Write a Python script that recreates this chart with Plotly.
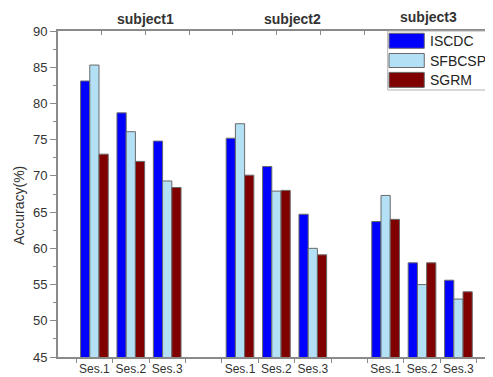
import plotly.graph_objects as go

subjects = ["subject1", "subject2", "subject3"]
sessions = ["Ses.1", "Ses.2", "Ses.3"]
methods = ["ISCDC", "SFBCSP", "SGRM"]

iscdc = [83.1, 78.7, 74.8, 75.2, 71.3, 64.7, 63.7, 58.0, 55.6]
sfbcsp = [85.3, 76.1, 69.3, 77.2, 67.9, 60.0, 67.3, 55.0, 53.0]
sgrm = [73.0, 72.0, 68.4, 70.1, 68.0, 59.1, 64.0, 58.0, 54.0]

series = [iscdc, sfbcsp, sgrm]
colors = ["#0000FF", "#B3E0F5", "#800000"]

# positions: sessions of each subject side by side, one empty slot between subjects
xpos = [si * 4 + ki for si in range(len(subjects)) for ki in range(len(sessions))]
xlabels = [s for _ in subjects for s in sessions]

FONT = "Liberation Sans, Arial, sans-serif"

fig = go.Figure()
for name, vals, col in zip(methods, series, colors):
    fig.add_trace(go.Bar(
        x=xpos, y=vals, name=name,
        marker=dict(color=col, line=dict(color="#6a6a6a", width=1)),
        showlegend=False,
    ))

# empty trace to activate the secondary (top/right) frame axes
fig.add_trace(go.Scatter(x=[None], y=[None], xaxis="x2", yaxis="y2",
                         showlegend=False, hoverinfo="skip"))

axis_col = "#8a8a8a"
# the page body has an 8px default margin, so the figure is 8px smaller
fig.update_layout(
    width=485, height=369,
    margin=dict(l=50, r=0, t=23, b=20),
    paper_bgcolor="white", plot_bgcolor="white",
    barmode="group", bargap=0.24, bargroupgap=0,
    font=dict(family=FONT, color="#333333", size=12),
    xaxis=dict(
        range=[-1, 10.95], tickvals=xpos, ticktext=xlabels,
        ticks="outside", ticklen=0, showgrid=False, zeroline=False,
        showline=True, linecolor=axis_col, linewidth=2,
        tickfont=dict(size=12, color="#333333"),
        minor=dict(dtick=1, tick0=0.5, ticks="outside", ticklen=4,
                   tickcolor=axis_col, tickwidth=1, showgrid=False),
    ),
    yaxis=dict(
        range=[45, 90], dtick=5, ticks="outside", ticklen=6,
        tickcolor=axis_col, tickwidth=1,
        showgrid=False, zeroline=False, showline=True,
        linecolor=axis_col, linewidth=2,
        tickfont=dict(size=13, color="#333333"),
        minor=dict(dtick=2.5, ticks="outside", ticklen=3,
                   tickcolor=axis_col, showgrid=False),
    ),
    xaxis2=dict(
        overlaying="x", side="top", anchor="y", range=[0, 9.95], dtick=1,
        ticks="inside", ticklen=4, tickcolor=axis_col, showticklabels=False,
        showgrid=False, zeroline=False, showline=True,
        linecolor=axis_col, linewidth=2,
    ),
    yaxis2=dict(
        overlaying="y", side="right", anchor="x", range=[0, 5], dtick=1,
        ticks="inside", ticklen=5, tickcolor=axis_col, showticklabels=False,
        showgrid=False, zeroline=False, showline=False,
        minor=dict(dtick=0.5, ticks="inside", ticklen=2, tickcolor=axis_col),
    ),
)

# subject titles
subj_x = [1.39, 5.45, 9.19]
subj_y = [1.037, 1.037, 1.043]
for name, sx, sy in zip(subjects, subj_x, subj_y):
    fig.add_annotation(text="<b>%s</b>" % name, x=sx, y=sy, xref="x", yref="paper",
                       showarrow=False, xanchor="center", yanchor="middle",
                       font=dict(size=14, color="#333333", family=FONT))

# y axis title
fig.add_annotation(text="Accuracy(%)", x=-0.0897, y=0.466, xref="paper", yref="paper",
                   textangle=-90, showarrow=False, xanchor="center", yanchor="middle",
                   font=dict(size=14, color="#333333", family=FONT))

# custom legend
fig.add_shape(type="rect", xref="paper", yref="paper", x0=0.758, x1=0.998,
              y0=0.819, y1=1.0, line=dict(color="#b0b0b0", width=1),
              fillcolor="white", layer="above")
sw_y = [(0.947, 0.993), (0.888, 0.931), (0.827, 0.873)]
txt_y = [0.970, 0.909, 0.850]
for name, col, (y0, y1), ty in zip(methods, colors, sw_y, txt_y):
    fig.add_shape(type="rect", xref="paper", yref="paper", x0=0.761, x1=0.842,
                  y0=y0, y1=y1, fillcolor=col, line=dict(color="#6a6a6a", width=1),
                  layer="above")
    fig.add_annotation(text=name, x=0.850, y=ty, xref="paper", yref="paper",
                       showarrow=False, xanchor="left", yanchor="middle",
                       font=dict(size=14, color="#222222", family=FONT))

fig.write_html("out.html")
